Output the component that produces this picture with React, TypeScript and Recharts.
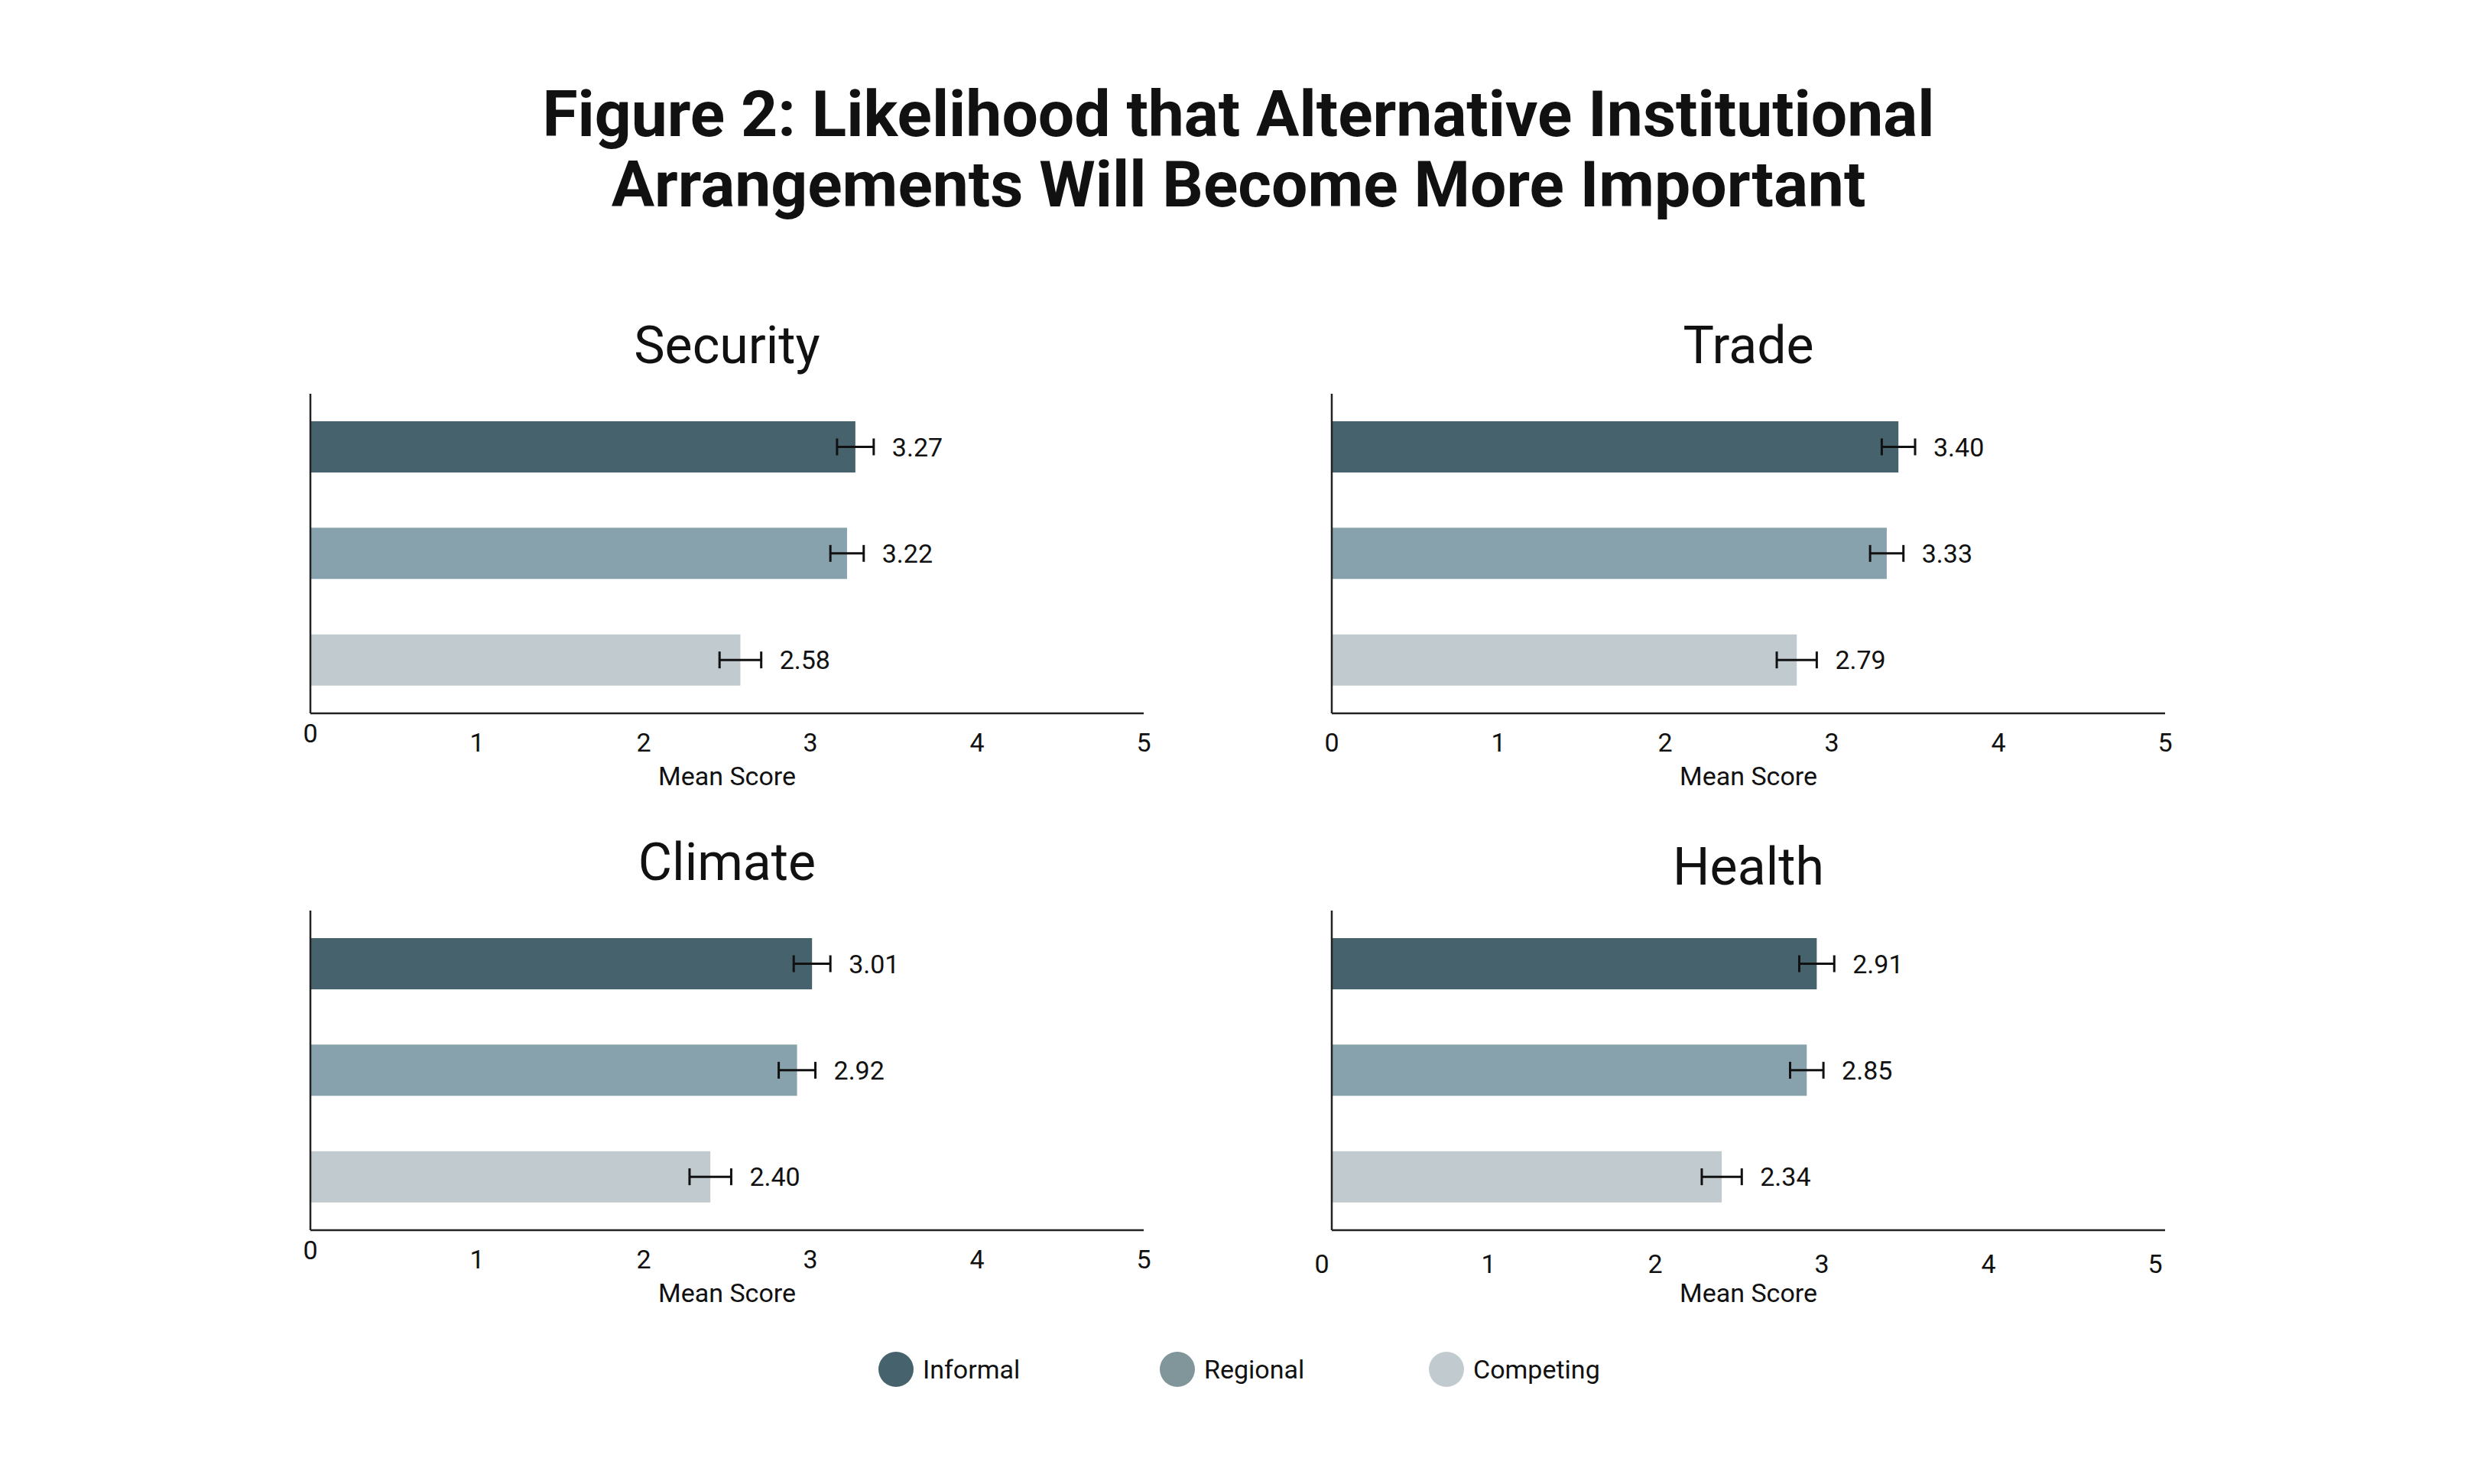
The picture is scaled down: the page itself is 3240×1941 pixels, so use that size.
import React from "react";
import { BarChart, Bar, XAxis, YAxis, Cell, ErrorBar, LabelList } from "recharts";

const categories = ["Informal", "Regional", "Competing"];
const barColors = ["#46636d", "#87a2ac", "#c1cbcf"];
const legendColors = ["#46636d", "#80969b", "#c1cbcf"];

const securityMeans = [3.27, 3.22, 2.58];
const securityErrors = [0.11, 0.1, 0.125];
const tradeMeans = [3.4, 3.33, 2.79];
const tradeErrors = [0.1, 0.1, 0.12];
const climateMeans = [3.01, 2.92, 2.4];
const climateErrors = [0.11, 0.11, 0.125];
const healthMeans = [2.91, 2.85, 2.34];
const healthErrors = [0.105, 0.1, 0.12];

const xTicks = [0, 1, 2, 3, 4, 5];

const FONT = "Roboto, 'Noto Sans', sans-serif";
const INK = "#111111";

const PLOT_W = 1090;
const PLOT_H = 418;
const M_LEFT = 39;
const Y_W = 1;
const M_TOP = 10;
const AXIS_H = 104;

interface TickStyle {
  dx: number;
  dy: number;
  zeroLift: number;
}

interface PanelProps {
  title: string;
  means: number[];
  errors: number[];
  plotLeft: number;
  plotTop: number;
  titleBaseline: number;
  tickStyle: TickStyle;
}

function Panel({ title, means, errors, plotLeft, plotTop, titleBaseline, tickStyle }: PanelProps) {
  const rows = categories.map((name, i) => ({ name, mean: means[i], err: errors[i] }));
  const pxPerUnit = PLOT_W / 5;
  const edge = M_LEFT + Y_W;

  const renderValue = (props: any) => {
    const vb = props.viewBox && props.viewBox.width !== undefined ? props.viewBox : props;
    const i = typeof props.index === "number" ? props.index : 0;
    const x = Number(vb.x) + Number(vb.width) + errors[i] * pxPerUnit + 24;
    const y = Number(vb.y) + Number(vb.height) / 2;
    return (
      <text x={x} y={y} dominantBaseline="central" fontSize={34} fontFamily={FONT} fill={INK}>
        {Number(props.value).toFixed(2)}
      </text>
    );
  };

  const renderTick = (props: any) => {
    const { x, y, payload } = props;
    const lift = payload.value === 0 ? tickStyle.zeroLift : 0;
    return (
      <text
        x={Number(x) + tickStyle.dx}
        y={Number(y) + tickStyle.dy - lift}
        dy="0.71em"
        textAnchor="middle"
        fontSize={34}
        fontFamily={FONT}
        fill={INK}
      >
        {payload.value}
      </text>
    );
  };

  return (
    <>
      <div
        style={{
          position: "absolute",
          left: plotLeft - 300,
          width: PLOT_W + 600,
          top: titleBaseline - 57,
          lineHeight: "68px",
          fontSize: 68,
          fontFamily: FONT,
          color: INK,
          textAlign: "center",
        }}
      >
        {title}
      </div>
      <div style={{ position: "absolute", left: plotLeft - edge, top: plotTop - M_TOP }}>
        <BarChart
          width={edge + PLOT_W + 80}
          height={M_TOP + PLOT_H + AXIS_H + 10}
          data={rows}
          layout="vertical"
          margin={{ top: M_TOP, right: 80, left: M_LEFT, bottom: 10 }}
        >
          <XAxis
            type="number"
            domain={[0, 5]}
            ticks={xTicks}
            interval={0}
            height={AXIS_H}
            tickLine={false}
            tickMargin={20}
            axisLine={{ stroke: "#222", strokeWidth: 2.5 }}
            tick={renderTick}
            label={{
              value: "Mean Score",
              position: "insideBottom",
              offset: 10,
              fontSize: 34,
              fontFamily: FONT,
              fill: INK,
            }}
          />
          <YAxis
            type="category"
            dataKey="name"
            width={Y_W}
            tick={false}
            tickLine={false}
            axisLine={{ stroke: "#222", strokeWidth: 2.5 }}
          />
          <Bar dataKey="mean" barSize={67} isAnimationActive={false}>
            {rows.map((r, i) => (
              <Cell key={r.name} fill={barColors[i]} />
            ))}
            <ErrorBar dataKey="err" direction="x" width={11} strokeWidth={3} stroke={INK} />
            <LabelList dataKey="mean" content={renderValue} />
          </Bar>
        </BarChart>
      </div>
    </>
  );
}

export default function App() {
  return (
    <div
      style={{
        position: "relative",
        width: 3240,
        height: 1941,
        background: "#fff",
        overflow: "hidden",
        fontFamily: FONT,
      }}
    >
      <style>{`body{margin:0;background:#fff}`}</style>
      <div
        style={{
          position: "absolute",
          left: 0,
          width: 3240,
          top: 104,
          textAlign: "center",
          fontSize: 84,
          fontWeight: 700,
          lineHeight: "92px",
          color: INK,
        }}
      >
        Figure 2: Likelihood that Alternative Institutional
        <br />
        Arrangements Will Become More Important
      </div>

      <Panel
        title="Security"
        means={securityMeans}
        errors={securityErrors}
        plotLeft={406}
        plotTop={515}
        titleBaseline={475}
        tickStyle={{ dx: 0, dy: 0, zeroLift: 12 }}
      />
      <Panel
        title="Trade"
        means={tradeMeans}
        errors={tradeErrors}
        plotLeft={1742}
        plotTop={515}
        titleBaseline={475}
        tickStyle={{ dx: 0, dy: 0, zeroLift: 0 }}
      />
      <Panel
        title="Climate"
        means={climateMeans}
        errors={climateErrors}
        plotLeft={406}
        plotTop={1191}
        titleBaseline={1151}
        tickStyle={{ dx: 0, dy: 0, zeroLift: 12 }}
      />
      <Panel
        title="Health"
        means={healthMeans}
        errors={healthErrors}
        plotLeft={1742}
        plotTop={1191}
        titleBaseline={1157}
        tickStyle={{ dx: -13, dy: 6, zeroLift: 0 }}
      />

      {categories.map((name, i) => {
        const cx = [1172, 1540, 1892][i];
        return (
          <div
            key={name}
            style={{
              position: "absolute",
              left: cx - 23,
              top: 1768,
              height: 46,
              display: "flex",
              alignItems: "center",
              fontSize: 34,
              color: INK,
            }}
          >
            <span
              style={{
                display: "inline-block",
                width: 46,
                height: 46,
                borderRadius: 23,
                background: legendColors[i],
                marginRight: 12,
              }}
            />
            {name}
          </div>
        );
      })}
    </div>
  );
}
